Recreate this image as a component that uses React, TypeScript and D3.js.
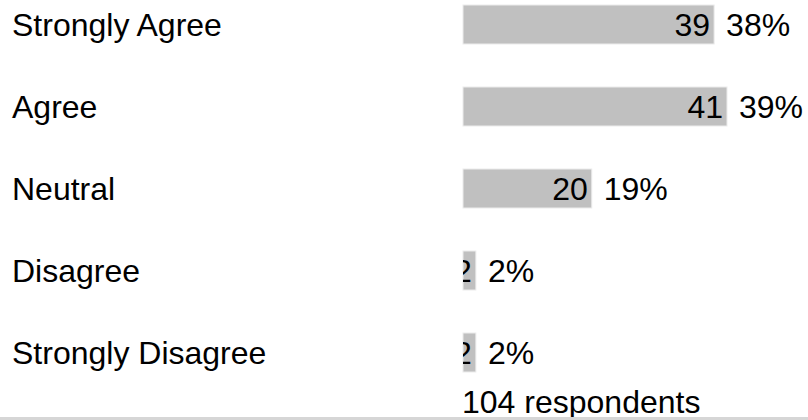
import React, { useRef, useEffect } from 'react';
import * as d3 from 'd3';

const categories = ['Strongly Agree', 'Agree', 'Neutral', 'Disagree', 'Strongly Disagree'];
const counts = [39, 41, 20, 2, 2];
const percentLabels = ['38%', '39%', '19%', '2%', '2%'];
const totalRespondents = 104;

const WIDTH = 808;
const HEIGHT = 420;
const FONT = '"Liberation Sans", Arial, Helvetica, sans-serif';

export default function App() {
  const svgRef = useRef<SVGSVGElement>(null);

  useEffect(() => {
    const svg = d3.select(svgRef.current);
    svg.selectAll('*').remove();

    const fontSize = 32;
    const barLeft = 463;

    const xScale = d3.scaleLinear()
      .domain([0, d3.max(counts) as number])
      .range([barLeft, 727]);

    const yScale = d3.scaleBand<string>()
      .domain(categories)
      .range([0, 410])
      .padding(0);

    const barHeight = 39;
    const barOffset = 5;

    const defs = svg.append('defs');

    const rows = svg.append('g')
      .selectAll('g')
      .data(categories)
      .enter()
      .append('g');

    // category labels on the left
    rows.append('text')
      .attr('x', 12)
      .attr('y', d => (yScale(d) as number) + barOffset + barHeight / 2 + 11)
      .attr('font-family', FONT)
      .attr('font-size', fontSize)
      .attr('fill', '#000')
      .text(d => d);

    // clip paths so the count text stays inside each bar
    categories.forEach((c, i) => {
      defs.append('clipPath')
        .attr('id', `bar-clip-${i}`)
        .append('rect')
        .attr('x', barLeft)
        .attr('y', (yScale(c) as number) + barOffset)
        .attr('width', xScale(counts[i]) - barLeft)
        .attr('height', barHeight);
    });

    rows.append('rect')
      .attr('x', barLeft)
      .attr('y', d => (yScale(d) as number) + barOffset)
      .attr('width', (d, i) => xScale(counts[i]) - barLeft)
      .attr('height', barHeight)
      .attr('fill', '#c0c0c0')
      .attr('stroke', '#ececec')
      .attr('stroke-width', 1);

    rows.append('text')
      .attr('x', (d, i) => xScale(counts[i]) - 4)
      .attr('y', d => (yScale(d) as number) + barOffset + barHeight / 2 + 11)
      .attr('text-anchor', 'end')
      .attr('clip-path', (d, i) => `url(#bar-clip-${i})`)
      .attr('font-family', FONT)
      .attr('font-size', fontSize)
      .attr('fill', '#000')
      .text((d, i) => counts[i]);

    rows.append('text')
      .attr('x', (d, i) => xScale(counts[i]) + 12)
      .attr('y', d => (yScale(d) as number) + barOffset + barHeight / 2 + 11)
      .attr('font-family', FONT)
      .attr('font-size', fontSize)
      .attr('fill', '#000')
      .text((d, i) => percentLabels[i]);

    svg.append('text')
      .attr('x', barLeft - 1)
      .attr('y', 413)
      .attr('font-family', FONT)
      .attr('font-size', fontSize)
      .attr('fill', '#000')
      .text(`${totalRespondents} respondents`);

    // grey strip along the bottom edge
    svg.append('rect')
      .attr('x', 0)
      .attr('y', 417)
      .attr('width', WIDTH)
      .attr('height', 3)
      .attr('fill', '#d6d6d6');
  }, []);

  return (
    <svg
      ref={svgRef}
      width={WIDTH}
      height={HEIGHT}
      style={{ position: 'absolute', left: 0, top: 0, background: '#fff' }}
    />
  );
}
